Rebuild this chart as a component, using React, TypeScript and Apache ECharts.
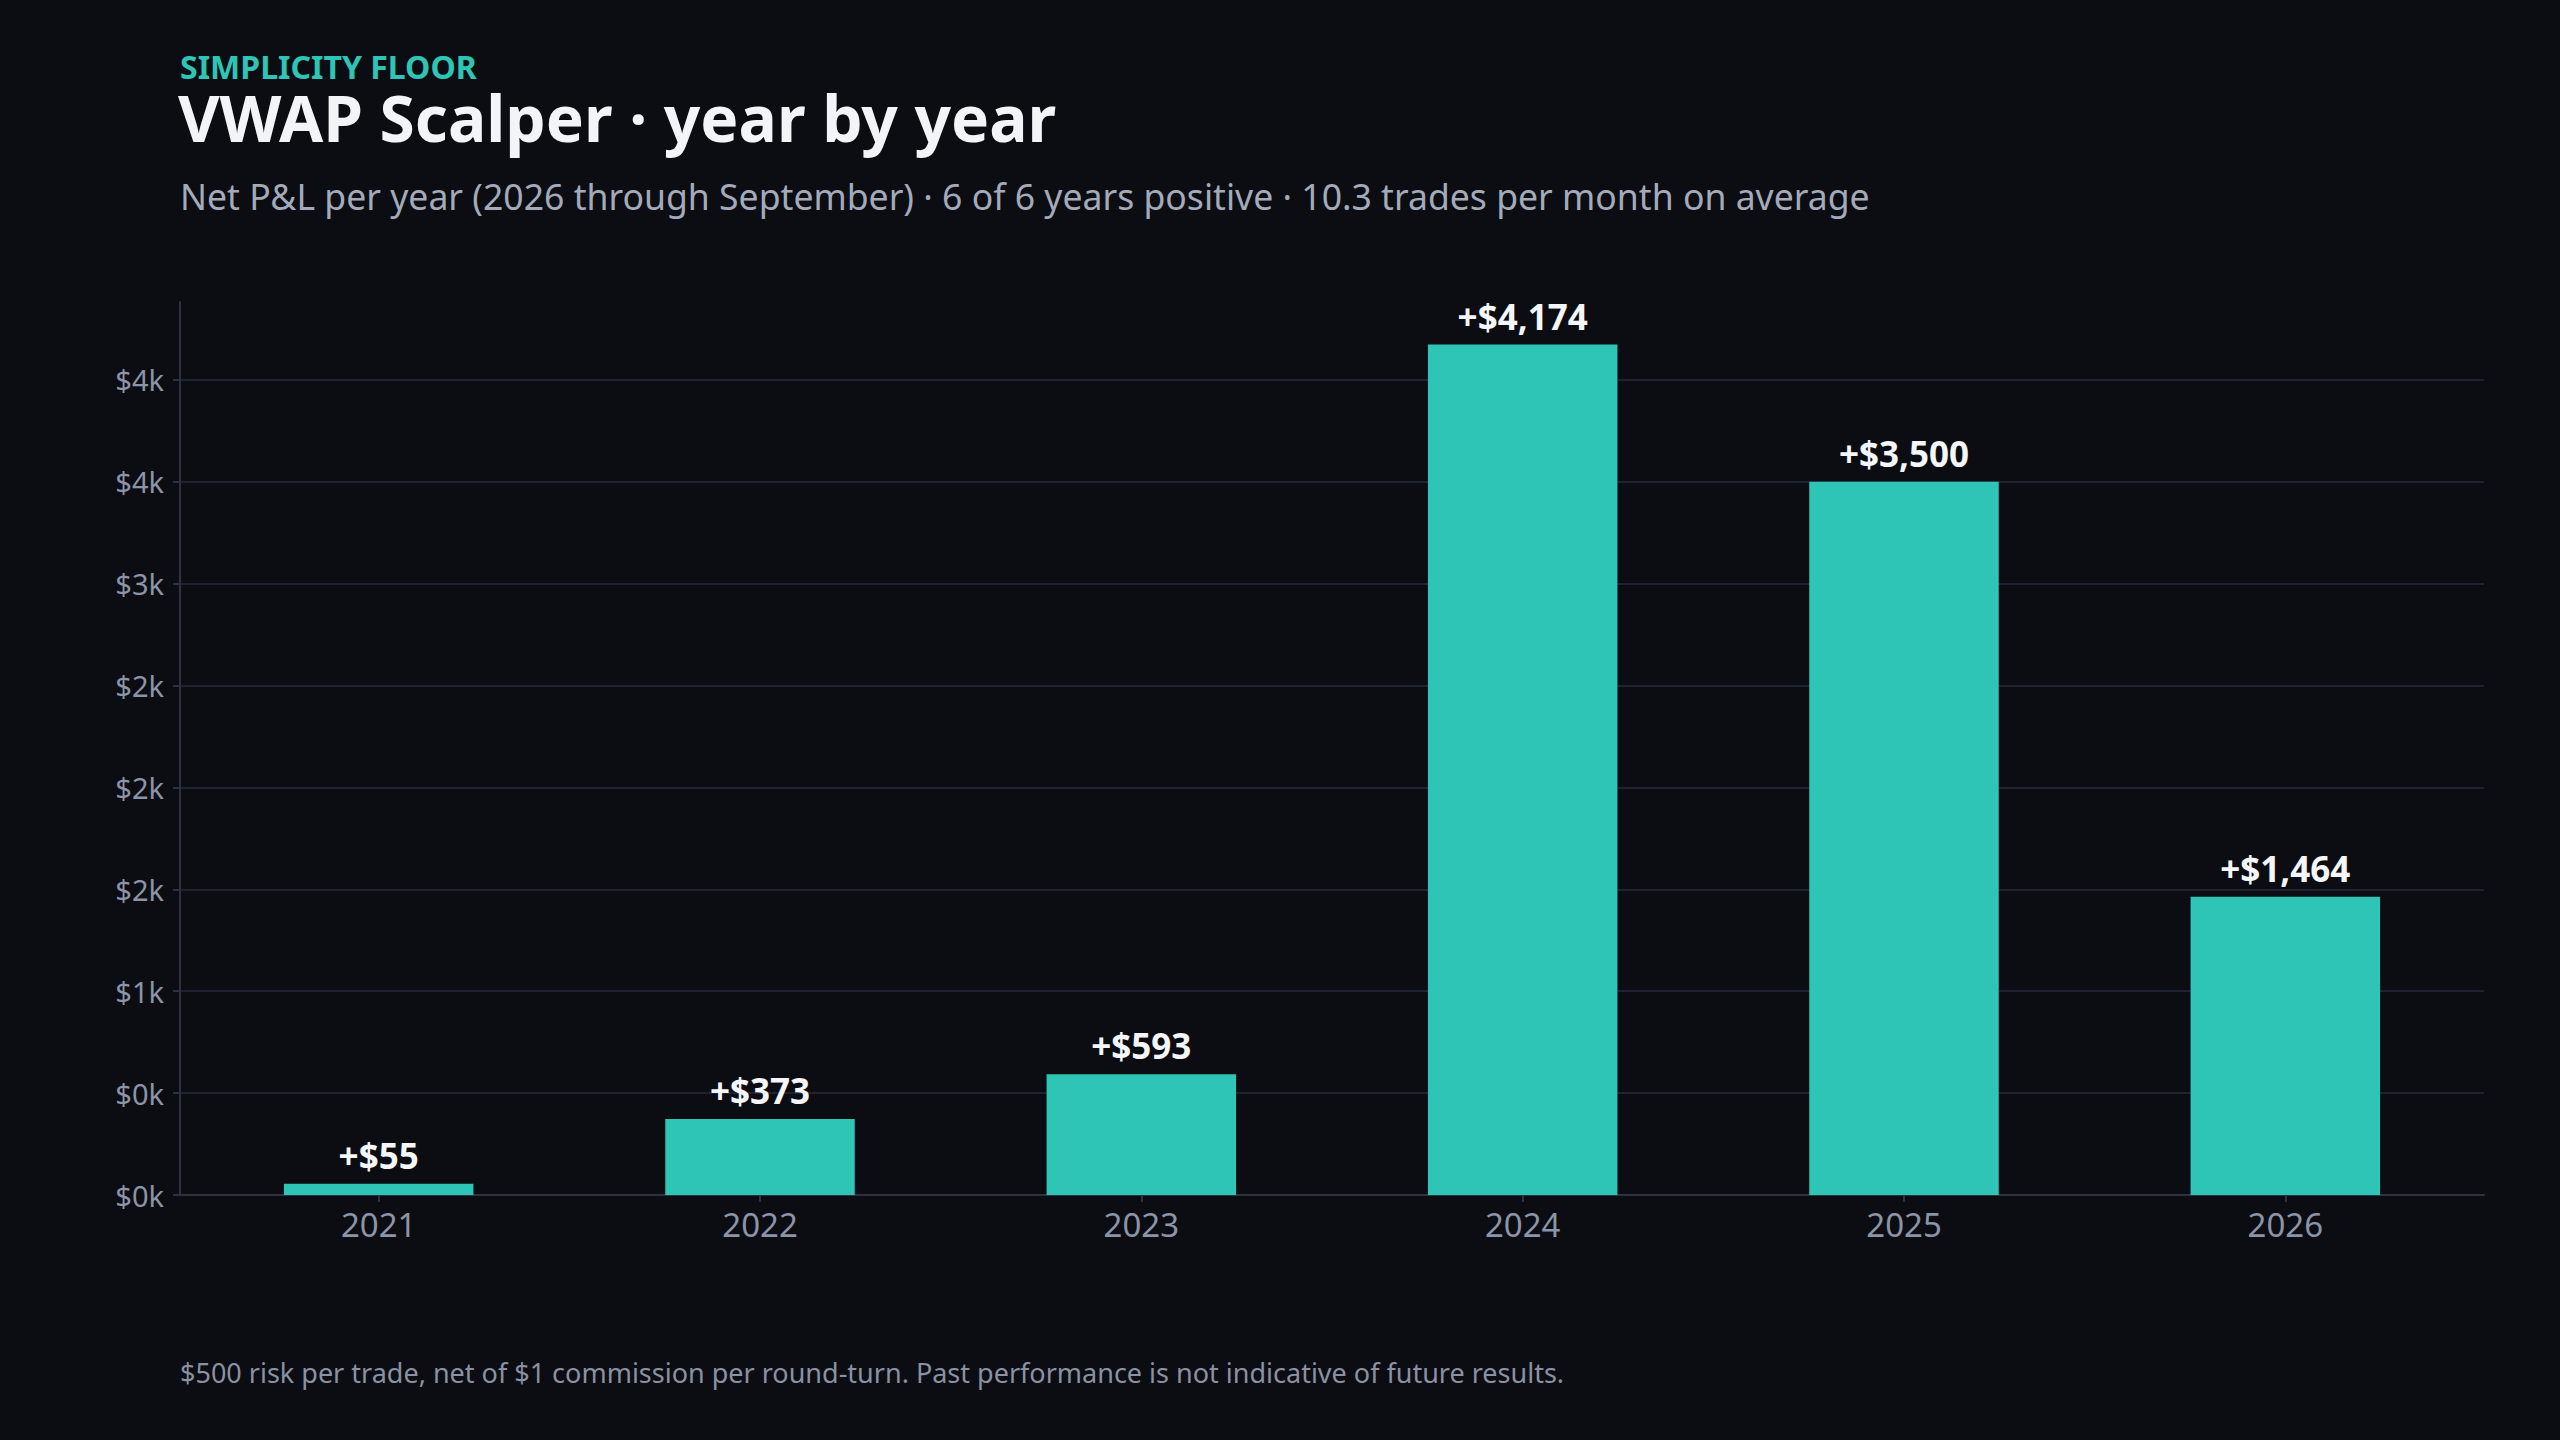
import React, { useEffect, useRef } from "react";
import * as echarts from "echarts";

const years = ["2021", "2022", "2023", "2024", "2025", "2026"];
const netPnl = [55, 373, 593, 4174, 3500, 1464];
const yTickValues = [0, 500, 1000, 1500, 2000, 2500, 3000, 3500, 4000];
const yTickLabels = ["$0k", "$0k", "$1k", "$2k", "$2k", "$2k", "$3k", "$4k", "$4k"];

const kicker = "SIMPLICITY FLOOR";
const title = "VWAP Scalper · year by year";
const subtitle =
  "Net P&L per year (2026 through September) · 6 of 6 years positive · 10.3 trades per month on average";
const footnote =
  "$500 risk per trade, net of $1 commission per round-turn. Past performance is not indicative of future results.";

const FONT = "'Noto Sans', 'Open Sans', sans-serif";
const BG = "#0b0d12";
const TEAL = "#2ec4b6";
const GRID = "#1f2331";
const AXIS = "#2d3242";

export default function App() {
  const ref = useRef<HTMLDivElement>(null);
  useEffect(() => {
    if (!ref.current) return;
    const chart = echarts.init(ref.current, null, { renderer: "svg" });
    const maxVal = Math.max(...netPnl) * 1.05;
    const splitColors = yTickValues.map(() => GRID).concat(["rgba(0,0,0,0)"]);
    chart.setOption({
      animation: false,
      backgroundColor: BG,
      textStyle: { fontFamily: FONT },
      grid: [
        { left: 188, right: 84, top: 302, bottom: 245, containLabel: false },
        { left: 180, right: 76, top: 302, bottom: 245, containLabel: false },
      ],
      graphic: [
        {
          type: "text",
          left: 180,
          top: 50,
          style: { text: kicker, fill: TEAL, font: `700 32px ${FONT}` },
        },
        {
          type: "text",
          left: 178,
          top: 85,
          style: { text: title, fill: "#f2f4f8", font: `700 64px ${FONT}` },
        },
        {
          type: "text",
          left: 180,
          top: 178,
          style: { text: subtitle, fill: "#a3abbb", font: `400 35.6px ${FONT}` },
        },
        {
          type: "text",
          left: 180,
          top: 1359,
          style: { text: footnote, fill: "#8a91a3", font: `400 27px ${FONT}` },
        },
      ],
      xAxis: [
        {
          type: "category",
          gridIndex: 0,
          data: years,
          axisLine: { show: false },
          axisTick: { show: true, alignWithLabel: true, length: 7, lineStyle: { color: AXIS, width: 2 } },
          axisLabel: { color: "#8c94a8", fontSize: 33, margin: 13, fontFamily: FONT },
          splitLine: { show: false },
        },
        {
          type: "value",
          gridIndex: 1,
          min: 0,
          max: 1,
          axisLine: { show: true, lineStyle: { color: AXIS, width: 2 } },
          axisTick: { show: false },
          axisLabel: { show: false },
          splitLine: { show: false },
        },
      ],
      yAxis: [
        {
          type: "value",
          gridIndex: 0,
          min: 0,
          max: maxVal,
          show: false,
          splitLine: { show: false },
        },
        {
          type: "value",
          gridIndex: 1,
          min: 0,
          max: maxVal,
          interval: 500,
          axisLine: { show: true, lineStyle: { color: AXIS, width: 2 } },
          axisTick: {
            show: true,
            length: 7,
            customValues: yTickValues,
            lineStyle: { color: AXIS, width: 2 },
          },
          axisLabel: {
            color: "#8c94a8",
            fontSize: 29,
            margin: 16,
            fontFamily: FONT,
            customValues: yTickValues,
            formatter: (v: number) => {
              const i = yTickValues.indexOf(Math.round(v));
              return i >= 0 ? yTickLabels[i] : "";
            },
          },
          splitLine: { show: true, lineStyle: { color: splitColors, width: 2 } },
        },
      ],
      series: [
        {
          type: "bar",
          xAxisIndex: 0,
          yAxisIndex: 0,
          data: netPnl,
          barWidth: "49.7%",
          itemStyle: { color: TEAL },
          label: {
            show: true,
            position: "top",
            distance: 11,
            color: "#f4f6fa",
            fontWeight: 700,
            fontSize: 35,
            fontFamily: FONT,
            formatter: (p: any) => "+$" + Number(p.value).toLocaleString("en-US"),
          },
        },
      ],
    });
    return () => chart.dispose();
  }, []);
  return (
    <div
      ref={ref}
      style={{ position: "fixed", left: 0, top: 0, width: 2560, height: 1440, background: BG }}
    />
  );
}
